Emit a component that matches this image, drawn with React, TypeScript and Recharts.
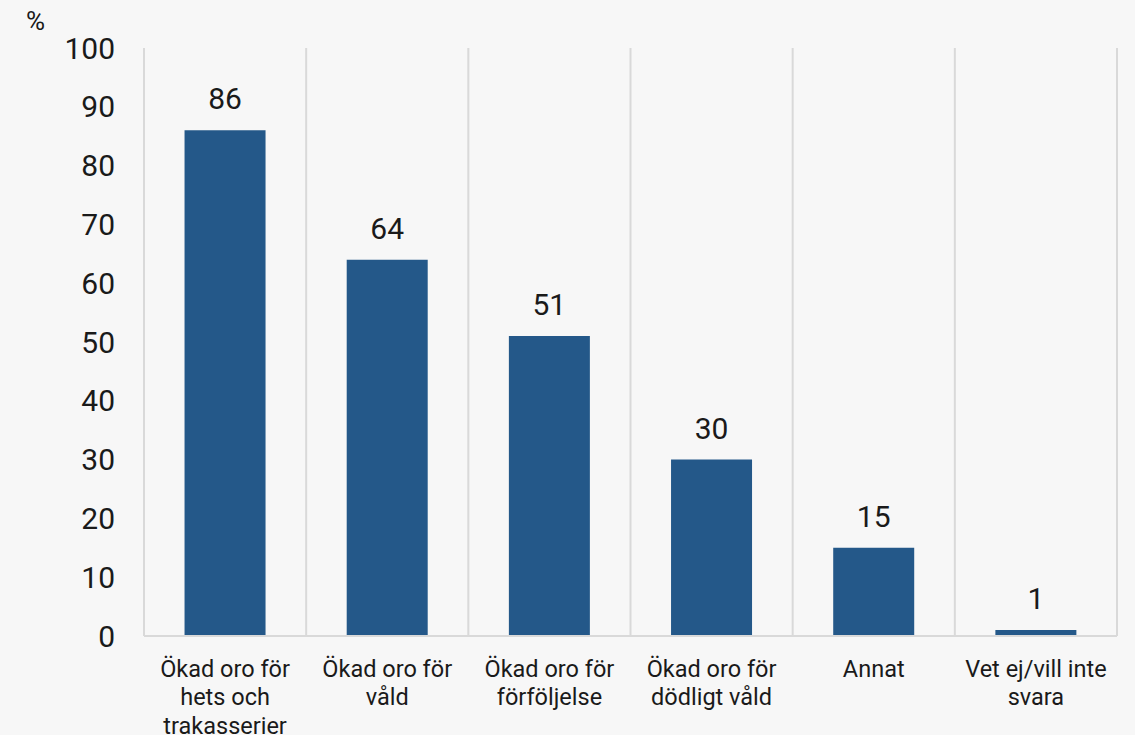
import React from 'react'
import { BarChart, Bar, XAxis, YAxis, CartesianGrid, LabelList } from 'recharts'

const categories = [
  'Ökad oro för\nhets och\ntrakasserier',
  'Ökad oro för\nvåld',
  'Ökad oro för\nförföljelse',
  'Ökad oro för\ndödligt våld',
  'Annat',
  'Vet ej/vill inte\nsvara',
]
const values = [86, 64, 51, 30, 15, 1]
const yTicks = [0, 10, 20, 30, 40, 50, 60, 70, 80, 90, 100]

const data = categories.map((name, i) => ({ name, value: values[i] }))

const FONT = 'Roboto, "Noto Sans", sans-serif'

const CategoryTick = (props: any) => {
  const { x, y, payload } = props
  const lines = String(payload.value).split('\n')
  return (
    <text x={x} y={y} textAnchor="middle" fill="#1a1a1a" fontSize={23.5} fontFamily={FONT}>
      {lines.map((line, i) => (
        <tspan key={i} x={x} dy={i === 0 ? 38.5 : 28.5}>
          {line}
        </tspan>
      ))}
    </text>
  )
}

export default function App() {
  return (
    <div style={{ position: 'fixed', left: 0, top: 0, width: 1135, height: 735, background: '#f7f7f7', fontFamily: FONT }}>
      <span style={{ position: 'absolute', left: 26, top: 6, fontSize: 26, color: '#1a1a1a' }}>%</span>
      <BarChart
        width={1135}
        height={735}
        data={data}
        margin={{ top: 48, right: 18, left: 84, bottom: 0 }}
        barCategoryGap="25%"
      >
        <CartesianGrid
          horizontal={false}
          stroke="#d9d9d9"
          strokeWidth={2}
          verticalCoordinatesGenerator={({ offset }: any) =>
            categories.map((_, i) => offset.left + (i * offset.width) / categories.length).concat(offset.left + offset.width)
          }
        />
        <XAxis
          dataKey="name"
          tick={<CategoryTick />}
          tickLine={false}
          axisLine={{ stroke: '#d9d9d9', strokeWidth: 2 }}
          height={99}
          interval={0}
          tickSize={0}
        />
        <YAxis
          domain={[0, 100]}
          ticks={yTicks}
          interval={0}
          axisLine={false}
          tickLine={false}
          tickSize={0}
          tickMargin={29}
          width={60}
          tick={{ fill: '#1a1a1a', fontSize: 30, fontFamily: FONT }}
        />
        <Bar dataKey="value" fill="#245889" isAnimationActive={false}>
          <LabelList dataKey="value" position="top" offset={21} fill="#1a1a1a" fontSize={30} fontFamily={FONT} />
        </Bar>
      </BarChart>
    </div>
  )
}
